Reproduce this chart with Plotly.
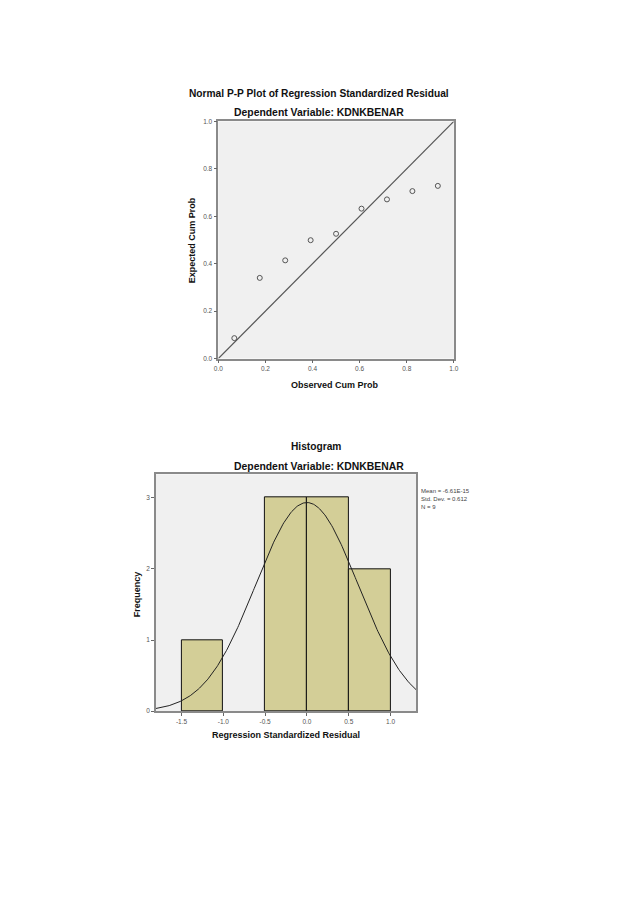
import plotly.graph_objects as go
import numpy as np

# --- P-P plot data ---
observed_cum_prob = [0.068, 0.176, 0.284, 0.392, 0.500, 0.608, 0.716, 0.824, 0.932]
expected_cum_prob = [0.086, 0.340, 0.414, 0.499, 0.526, 0.632, 0.671, 0.706, 0.728]
pp_ticks = [0.0, 0.2, 0.4, 0.6, 0.8, 1.0]
pp_tick_labels = ["0.0", "0.2", "0.4", "0.6", "0.8", "1.0"]

# --- Histogram data ---
bin_left = [-1.5, -1.0, -0.5, 0.0, 0.5]
bin_counts = [1, 0, 3, 3, 2]
bin_width = 0.5
hist_xticks = [-1.5, -1.0, -0.5, 0.0, 0.5, 1.0]
hist_xtick_labels = ["-1.5", "-1.0", "-0.5", "0.0", "0.5", "1.0"]
hist_yticks = [0, 1, 2, 3]
resid_mean = -6.61e-15
resid_sd = 0.612
resid_n = 9

FONT = "Liberation Sans, Arial, sans-serif"
W, H = 638, 903

def px(xp):
    return xp / W

def py(yp):
    return (H - yp) / H

fig = go.Figure()

# P-P plot
fig.add_trace(go.Scatter(x=[0, 1], y=[0, 1], mode="lines",
                         line=dict(color="#555555", width=1.2),
                         xaxis="x", yaxis="y", showlegend=False, hoverinfo="skip"))
fig.add_trace(go.Scatter(x=observed_cum_prob, y=expected_cum_prob, mode="markers",
                         marker=dict(symbol="circle-open", size=5, color="#555555",
                                     line=dict(width=1)),
                         xaxis="x", yaxis="y", showlegend=False))

# Histogram bars
centers = [b + bin_width / 2 for b in bin_left]
line_w = [1 if c > 0 else 0 for c in bin_counts]
fig.add_trace(go.Bar(x=centers, y=bin_counts, width=[bin_width] * len(centers),
                     marker=dict(color="#D3CE97", line=dict(color="#111111", width=line_w)),
                     xaxis="x2", yaxis="y2", showlegend=False))

# Normal curve from stated mean / sd / N
xc = np.linspace(-1.806, 1.306, 300)
yc = resid_n * bin_width / (resid_sd * np.sqrt(2 * np.pi)) * np.exp(-0.5 * ((xc - resid_mean) / resid_sd) ** 2)
fig.add_trace(go.Scatter(x=xc, y=yc, mode="lines", line=dict(color="#222222", width=1),
                         xaxis="x2", yaxis="y2", showlegend=False, hoverinfo="skip"))

axis_common = dict(showgrid=False, zeroline=False, showline=True, mirror=True,
                   linecolor="#8a8a8a", linewidth=1.5, ticks="outside", ticklen=3,
                   tickcolor="#666666", tickfont=dict(size=6.5, color="#555555", family=FONT))

fig.update_layout(
    width=W, height=H, margin=dict(l=0, r=0, t=0, b=0),
    paper_bgcolor="white", plot_bgcolor="#F0F0F0",
    font=dict(family=FONT),
    bargap=0,
    xaxis=dict(domain=[px(216.7), px(456)], range=[0, 1], tickvals=pp_ticks,
               ticktext=pp_tick_labels, anchor="y", **axis_common),
    yaxis=dict(domain=[py(357.3), py(118.3)], range=[0, 1], tickvals=pp_ticks,
               ticktext=pp_tick_labels, anchor="x", **axis_common),
    xaxis2=dict(domain=[px(153.3), px(417.7)], range=[-1.806, 1.306], tickvals=hist_xticks,
                ticktext=hist_xtick_labels, anchor="y2", **axis_common),
    yaxis2=dict(domain=[py(712.7), py(474)], range=[0, 3.33], tickvals=hist_yticks,
                anchor="x2", **axis_common),
)

def ann(text, x, y, size, bold=True, angle=0, xanchor="center", yanchor="middle", align="center", color="#111111"):
    fig.add_annotation(text=f"<b>{text}</b>" if bold else text, x=x, y=y, xref="paper", yref="paper",
                       showarrow=False, textangle=angle, xanchor=xanchor, yanchor=yanchor, align=align,
                       font=dict(size=size, family=FONT, color=color))

ann("Normal P-P Plot of Regression Standardized Residual", px(318.5), py(90), 10.2)
ann("Dependent Variable: KDNKBENAR", px(319), py(109), 10.4)
ann("Observed Cum Prob", px(335), py(384), 9)
ann("Expected Cum Prob", px(190), py(238), 9, angle=-90)

ann("Histogram", px(316), py(446), 10.2)
ann("Dependent Variable: KDNKBENAR", px(319), py(466), 10.4)
ann("Regression Standardized Residual", px(285.5), py(737), 9)
ann("Frequency", px(134), py(595), 9, angle=-90)
ann("Mean = -6.61E-15<br>Std. Dev. = 0.612<br>N = 9", px(421), py(486), 6, bold=False,
    xanchor="left", yanchor="top", align="left", color="#444444")

fig.write_html("out.html", config={"displayModeBar": False},
               post_script="document.body.style.margin='0';")
